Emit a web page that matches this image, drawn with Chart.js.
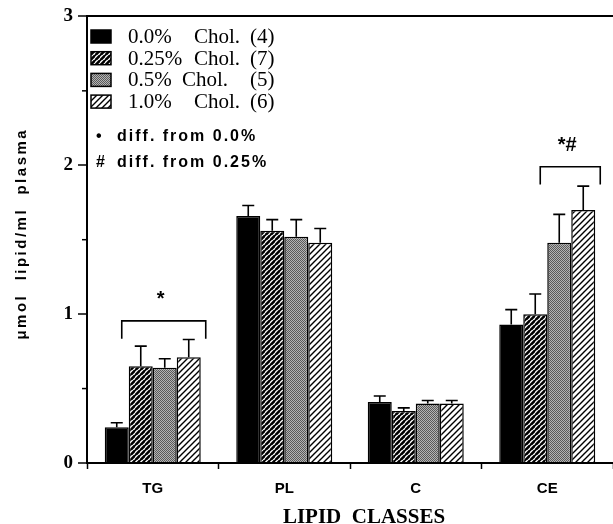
<!DOCTYPE html>
<html><head><meta charset="utf-8">
<script src="https://cdn.jsdelivr.net/npm/chart.js@4"></script>
<style>html,body{margin:0;padding:0;background:#fff;overflow:hidden}</style>
</head><body>
<canvas id="c" width="613" height="524" style="width:613px;height:524px;display:block"></canvas>
<script>
// ---- data ----
const categories = ['TG', 'PL', 'C', 'CE'];
const seriesPct = ['0.0%', '0.25%', '0.5%', '1.0%'];
const seriesN = [4, 7, 5, 6];
const chol00 = [0.24, 1.66, 0.41, 0.93];
const chol025 = [0.65, 1.56, 0.35, 1.00];
const chol05 = [0.64, 1.52, 0.40, 1.48];
const chol10 = [0.71, 1.48, 0.40, 1.70];
const err00 = [0.03, 0.07, 0.04, 0.10];
const err025 = [0.135, 0.075, 0.02, 0.135];
const err05 = [0.06, 0.115, 0.02, 0.19];
const err10 = [0.12, 0.095, 0.02, 0.16];
const yTicks = [0, 1, 2, 3];
const yMinorTicks = [0.5, 1.5, 2.5];
const sigCategory = ['TG', 'CE'];
const sigLabel = ['*', '*#'];
const sigFromSeries = [0, 1];
const sigLevel = [0.955, 1.99];
const noteSymbols = ['\u2022', '#'];
const noteTexts = ['diff. from 0.0%', 'diff. from 0.25%'];
const yTitle = '\u03BCmol  lipid/ml  plasma';
const xTitle = 'LIPID  CLASSES';

// ---- patterns ----
function hatch(lineW, period) {
  const c = document.createElement('canvas');
  c.width = period; c.height = period;
  const g = c.getContext('2d');
  g.fillStyle = '#fff'; g.fillRect(0, 0, period, period);
  g.strokeStyle = '#000'; g.lineWidth = lineW;
  g.beginPath();
  g.moveTo(0, period); g.lineTo(period, 0);
  g.moveTo(-period / 2, period / 2); g.lineTo(period / 2, -period / 2);
  g.moveTo(period / 2, period * 1.5); g.lineTo(period * 1.5, period / 2);
  g.stroke();
  return g.createPattern(c, 'repeat');
}
function stipple() {
  const c = document.createElement('canvas');
  c.width = 2; c.height = 2;
  const g = c.getContext('2d');
  g.fillStyle = '#b4b4b4'; g.fillRect(0, 0, 2, 2);
  g.fillStyle = '#5a5a5a'; g.fillRect(0, 0, 1, 1); g.fillRect(1, 1, 1, 1);
  return g.createPattern(c, 'repeat');
}
const fills = ['#000', hatch(2.6, 5.5), stipple(), hatch(1.4, 6)];
const values = [chol00, chol025, chol05, chol10];
const errors = [err00, err025, err05, err10];

const datasets = values.map((v, i) => ({
  label: seriesPct[i] + ' Chol. (' + seriesN[i] + ')',
  data: v,
  errors: errors[i],
  backgroundColor: fills[i],
  borderColor: '#000',
  borderWidth: 1.5,
  barPercentage: 1.0,
  categoryPercentage: 0.73
}));

const extras = {
  id: 'extras',
  afterDatasetsDraw(chart) {
    const ctx = chart.ctx, y = chart.scales.y, ca = chart.chartArea;
    ctx.save();
    // error bars
    ctx.strokeStyle = '#000'; ctx.lineWidth = 1.6;
    chart.data.datasets.forEach((ds, di) => {
      const meta = chart.getDatasetMeta(di);
      meta.data.forEach((bar, i) => {
        const top = y.getPixelForValue(ds.data[i] + ds.errors[i]);
        ctx.beginPath();
        ctx.moveTo(bar.x, bar.y); ctx.lineTo(bar.x, top);
        ctx.moveTo(bar.x - 6, top); ctx.lineTo(bar.x + 6, top);
        ctx.stroke();
      });
    });
    // minor y ticks
    ctx.lineWidth = 1.5;
    yMinorTicks.forEach(v => {
      const py = y.getPixelForValue(v);
      ctx.beginPath(); ctx.moveTo(ca.left - 5, py); ctx.lineTo(ca.left, py); ctx.stroke();
    });
    // significance brackets
    const lastMeta = chart.getDatasetMeta(values.length - 1);
    sigCategory.forEach((cat, k) => {
      const ci = categories.indexOf(cat);
      const x1 = chart.getDatasetMeta(sigFromSeries[k]).data[ci].x + 5;
      const x2 = lastMeta.data[ci].x + 17;
      const yTop = y.getPixelForValue(sigLevel[k]);
      const yLeg = y.getPixelForValue(sigLevel[k] - 0.12);
      ctx.lineWidth = 1.6;
      ctx.beginPath();
      ctx.moveTo(x1, yLeg); ctx.lineTo(x1, yTop); ctx.lineTo(x2, yTop); ctx.lineTo(x2, yLeg);
      ctx.stroke();
      ctx.fillStyle = '#000';
      ctx.font = 'bold 20px "Liberation Sans"';
      ctx.textAlign = 'center'; ctx.textBaseline = 'middle';
      ctx.fillText(sigLabel[k], (x1 + x2) / 2 - (sigLabel[k].length > 1 ? 3 : 3), yTop - 21);
    });
    ctx.restore();
  },
  afterDraw(chart) {
    const ctx = chart.ctx, ca = chart.chartArea;
    ctx.save();
    // legend
    ctx.textBaseline = 'middle'; ctx.textAlign = 'left';
    chart.data.datasets.forEach((ds, i) => {
      const cy = 36.5 + i * 21.7;
      ctx.fillStyle = ds.backgroundColor;
      ctx.fillRect(ca.left + 4, cy - 6.5, 20, 13);
      ctx.strokeStyle = '#000'; ctx.lineWidth = 1.5;
      ctx.strokeRect(ca.left + 4, cy - 6.5, 20, 13);
      ctx.fillStyle = '#000';
      ctx.font = '21px "Liberation Serif"';
      ctx.fillText(seriesPct[i], ca.left + 41, cy + 1);
      ctx.fillText('Chol.', ca.left + (i === 2 ? 95 : 107), cy + 1);
      ctx.fillText('(' + seriesN[i] + ')', ca.left + 163, cy + 1);
    });
    // notes
    ctx.font = 'bold 16px "Liberation Sans"';
    ctx.letterSpacing = '2px';
    noteTexts.forEach((t, i) => {
      const cy = 137 + i * 26;
      ctx.fillText(noteSymbols[i], ca.left + 9, cy);
      ctx.fillText(t, ca.left + 30, cy);
    });
    // y title
    ctx.save();
    ctx.translate(22, (ca.top + ca.bottom) / 2 - 6);
    ctx.rotate(-Math.PI / 2);
    ctx.textAlign = 'center';
    ctx.font = 'bold 15px "Liberation Sans"';
    ctx.letterSpacing = '2.5px';
    ctx.fillText(yTitle, 0, 0);
    ctx.restore();
    // x title
    ctx.letterSpacing = '0px';
    ctx.textAlign = 'center';
    ctx.font = 'bold 21px "Liberation Serif"';
    ctx.fillText(xTitle, (ca.left + ca.right) / 2 + 14, 518);
    ctx.restore();
  }
};

new Chart(document.getElementById('c'), {
  type: 'bar',
  data: { labels: categories, datasets },
  options: {
    responsive: false,
    devicePixelRatio: 1,
    animation: false,
    layout: { padding: { left: 0, top: 15, right: -8, bottom: 0 } },
    plugins: { legend: { display: false }, tooltip: { enabled: false } },
    scales: {
      x: {
        type: 'category',
        afterFit: s => { s.height = 61; },
        grid: { offset: true, drawOnChartArea: false, tickLength: 6, tickColor: '#000', tickWidth: 1.5 },
        border: { display: true, color: '#000', width: 2 },
        ticks: { color: '#000', font: { family: 'Liberation Sans', size: 15, weight: 'bold' }, padding: 11, maxRotation: 0 }
      },
      y: {
        min: 0, max: 3,
        afterFit: s => { s.width = 87; },
        afterBuildTicks: s => { s.ticks = yTicks.map(v => ({ value: v })); },
        grid: {
          drawOnChartArea: true,
          color: c => (c.tick && c.tick.value === 3) ? '#000' : 'rgba(0,0,0,0)',
          lineWidth: 2,
          tickLength: 9, tickColor: '#000', tickWidth: 1.5
        },
        border: { display: true, color: '#000', width: 2 },
        ticks: { color: '#000', font: { family: 'Liberation Serif', size: 19, weight: 'bold' }, padding: 5 }
      }
    }
  },
  plugins: [extras]
});
</script>
</body></html>
